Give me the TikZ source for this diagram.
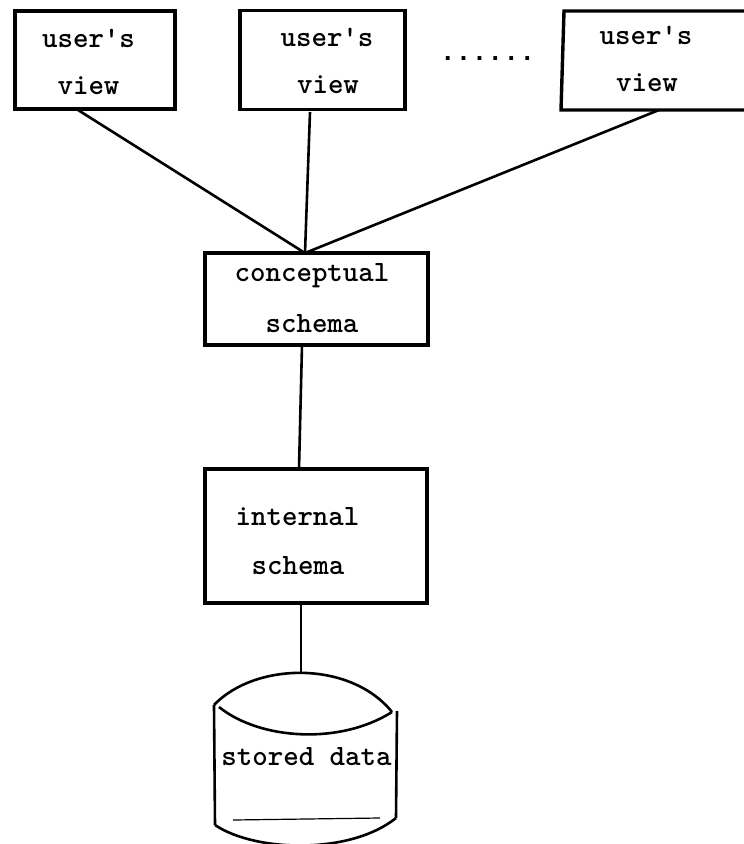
\documentclass[tikz,border=0pt]{standalone}
\usepackage{fontspec}
\newfontfamily\dotsfont{Liberation Mono}
\begin{document}
\begin{tikzpicture}[x=1pt,y=-1pt,
 boxn/.style={draw=black,line width=3.4pt,fill=none,minimum width=0pt,inner sep=0pt},
 lbl/.style={font=\ttfamily\bfseries\fontsize{29.5}{34}\selectfont,text=black,inner sep=0pt},
 conn/.style={draw=black,line width=2.6pt}]
\useasboundingbox (0,0) rectangle (744,844);
\node[boxn,minimum width=160pt,minimum height=98pt] (v1) at (95,60) {};
\node[boxn,minimum width=165pt,minimum height=99pt] (v2) at (322.5,60) {};
\draw[boxn] (744,11) -- (564,11) -- (561,110) -- (744,110);
\coordinate (v3b) at (659,110);
\node[boxn,minimum width=223pt,minimum height=92pt] (cs) at (316.5,299) {};
\node[boxn,minimum width=222pt,minimum height=134pt] (is) at (316,536) {};
\coordinate (apex) at (305,253);
\coordinate (v1b) at (78,110);
\coordinate (v2b) at (310,112);
\coordinate (csb) at (302,345);
\coordinate (ist) at (299,469);
\coordinate (isb) at (301,603);
\coordinate (dbt) at (301,674);
\draw[conn] (v1b) -- (apex);
\draw[conn] (v2b) -- (apex);
\draw[conn] (v3b) -- (apex);
\draw[conn] (csb) -- (ist);
\draw[conn] (isb) -- (dbt);
\node[lbl] (a1) at (88.5,38) {user's};
\node[lbl] (a2) at (88.5,86) {view};
\node[lbl] (b1) at (327,37) {user's};
\node[lbl] (b2) at (328,85) {view};
\node[lbl] (c1) at (646,35) {user's};
\node[lbl] (c2) at (647,83) {view};
\node[inner sep=0pt,font=\dotsfont\bfseries\fontsize{26.5}{30}\selectfont] (d) at (487.5,59) {......};
\node[lbl] (e1) at (312,276) {conceptual};
\node[lbl] (e2) at (312,324) {schema};
\node[lbl] (f1) at (297.5,517) {internal};
\node[lbl] (f2) at (298,566) {schema};
\node[lbl] (g) at (306.5,757) {stored data};
\draw[conn] (214,705) .. controls (255,662) and (350,660) .. (392,712);
\draw[conn] (219,707) .. controls (260,740) and (340,745) .. (392,712);
\draw[conn] (214,705) -- (215,825);
\draw[conn] (397,711) -- (396,818);
\draw[conn] (215,825) .. controls (255,852) and (350,855) .. (396,818);
\draw[line width=1.2pt] (233,820) -- (380,818);
\end{tikzpicture}
\end{document}
